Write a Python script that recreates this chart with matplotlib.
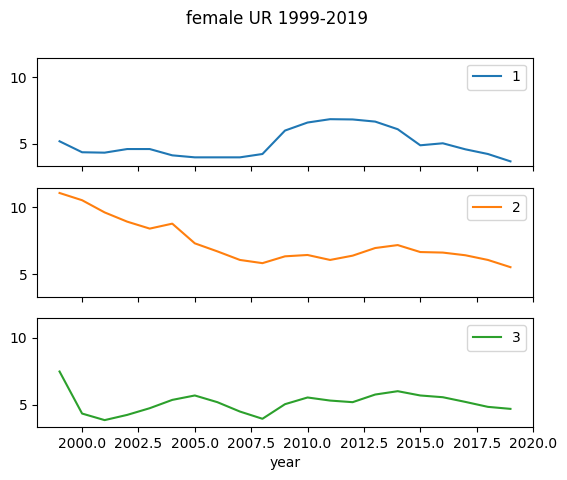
import matplotlib
matplotlib.use("Agg")
import matplotlib.pyplot as plt

years = list(range(1999, 2020))

ur_1 = [5.2, 4.38, 4.35, 4.62, 4.62, 4.15, 4.0, 4.0, 4.0, 4.25, 6.0,
        6.6, 6.85, 6.83, 6.67, 6.1, 4.9, 5.05, 4.6, 4.25, 3.7]
ur_2 = [11.08, 10.54, 9.63, 8.94, 8.42, 8.79, 7.32, 6.72, 6.08, 5.84, 6.35,
        6.45, 6.08, 6.4, 6.97, 7.19, 6.67, 6.63, 6.43, 6.08, 5.54]
ur_3 = [7.49, 4.35, 3.86, 4.25, 4.75, 5.37, 5.7, 5.2, 4.5, 3.96, 5.05,
        5.55, 5.32, 5.2, 5.77, 6.02, 5.7, 5.57, 5.22, 4.85, 4.7]

series = [("1", ur_1), ("2", ur_2), ("3", ur_3)]
colors = ["#1f77b4", "#ff7f0e", "#2ca02c"]

fig, axes = plt.subplots(3, 1, sharex=True, sharey=True, figsize=(5.67, 4.8), dpi=100)
fig.subplots_adjust(left=37 / 567, right=533 / 567, top=0.88, bottom=0.11)

for ax, (name, vals), c in zip(axes, series, colors):
    ax.plot(years, vals, color=c, label=name)
    ax.legend(loc="upper right")

axes[-1].set_xlabel("year")
fig.suptitle("female UR 1999-2019", x=277 / 567)

fig.savefig("out.png", dpi=100)
